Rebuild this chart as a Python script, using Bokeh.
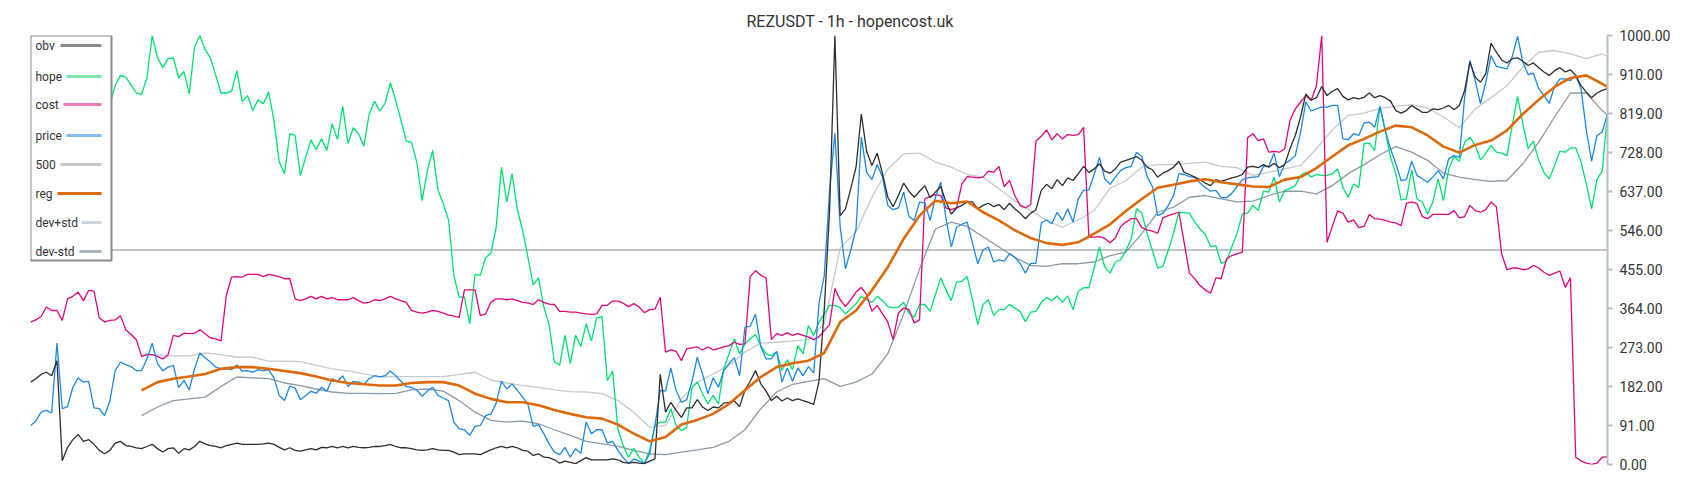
from bokeh.plotting import figure
from bokeh.models import Range1d, FixedTicker, PrintfTickFormatter, Span, BoxAnnotation, Label
from bokeh.embed import file_html
from bokeh.resources import INLINE

# ---------------- data (values normalised 0..1000) -------------
idx = list(range(299))

obv = [
    192, 200, 210, 215, 207, 242, 9, 40, 58, 70,
    54, 58, 47, 33, 25, 33, 50, 54, 44, 42,
    39, 37, 42, 47, 37, 29, 37, 39, 26, 37,
    34, 42, 54, 48, 44, 42, 39, 44, 47, 50,
    47, 47, 47, 47, 48, 50, 47, 40, 34, 39,
    33, 31, 34, 37, 34, 40, 39, 42, 39, 42,
    39, 42, 40, 39, 40, 42, 42, 44, 47, 42,
    39, 39, 37, 34, 33, 34, 37, 34, 33, 33,
    29, 23, 25, 25, 25, 23, 29, 34, 39, 42,
    39, 42, 39, 33, 31, 21, 25, 17, 16, 11,
    3, 8, 5, 2, 9, 16, 11, 11, 11, 11,
    13, 11, 5, 3, 5, 3, 2, 8, 13, 210,
    122, 145, 126, 110, 132, 132, 151, 134, 126, 134,
    132, 143, 145, 148, 135, 173, 194, 219, 188, 171,
    149, 159, 148, 155, 149, 153, 149, 145, 140, 194,
    363, 592, 1000, 580, 596, 643, 693, 817, 730, 697,
    726, 678, 623, 601, 627, 656, 637, 623, 637, 650,
    622, 635, 648, 612, 584, 598, 604, 612, 612, 596,
    604, 609, 601, 606, 594, 609, 596, 586, 573, 586,
    594, 639, 653, 643, 664, 650, 668, 662, 678, 695,
    681, 689, 701, 684, 679, 689, 705, 709, 713, 718,
    709, 693, 687, 670, 679, 685, 693, 707, 681, 676,
    670, 664, 656, 650, 664, 660, 664, 668, 671, 676,
    693, 695, 692, 699, 693, 702, 692, 699, 736, 767,
    810, 864, 849, 855, 881, 860, 870, 876, 858, 850,
    855, 852, 856, 866, 855, 860, 855, 847, 825, 819,
    825, 837, 829, 821, 821, 829, 827, 831, 837, 827,
    837, 872, 938, 903, 891, 911, 982, 961, 943, 936,
    946, 948, 940, 930, 936, 925, 915, 907, 918, 925,
    915, 920, 907, 883, 868, 855, 866, 872, 876,
]

hope = [
    860, 880, 900, 890, 870, 910, 930, 900, 880, 860,
    850, 870, 890, 870, 850, 841, 883, 907, 903, 885,
    866, 863, 901, 1000, 948, 925, 946, 948, 901, 916,
    864, 973, 1000, 967, 948, 907, 866, 866, 870, 918,
    846, 860, 825, 850, 841, 868, 802, 705, 678, 771,
    767, 674, 716, 757, 734, 759, 732, 794, 758, 835,
    748, 785, 771, 742, 817, 847, 824, 842, 890, 849,
    803, 754, 751, 705, 615, 685, 732, 640, 608, 570,
    441, 390, 390, 328, 443, 441, 482, 493, 553, 693,
    612, 678, 594, 546, 483, 419, 435, 367, 326, 239,
    232, 301, 235, 301, 275, 328, 288, 342, 345, 196,
    218, 83, 44, 17, 37, 17, 2, 33, 91, 99,
    99, 130, 91, 79, 87, 180, 192, 165, 141, 161,
    141, 223, 258, 293, 258, 281, 293, 303, 277, 258,
    254, 262, 219, 244, 221, 277, 258, 324, 301, 332,
    351, 371, 371, 365, 351, 363, 375, 392, 384, 378,
    392, 382, 368, 365, 367, 378, 353, 343, 373, 373,
    357, 396, 435, 407, 382, 425, 427, 438, 384, 326,
    373, 384, 347, 361, 361, 373, 365, 357, 333, 355,
    357, 378, 389, 382, 393, 378, 393, 361, 404, 412,
    412, 458, 507, 460, 446, 472, 477, 499, 526, 596,
    586, 538, 499, 458, 462, 499, 539, 588, 587, 586,
    565, 549, 536, 508, 510, 469, 474, 507, 539, 584,
    586, 604, 592, 637, 635, 670, 612, 639, 643, 650,
    674, 681, 670, 676, 674, 674, 678, 689, 646, 623,
    654, 646, 748, 749, 732, 835, 779, 716, 678, 617,
    619, 687, 619, 612, 584, 612, 666, 615, 689, 718,
    707, 751, 763, 744, 710, 726, 744, 728, 726, 720,
    790, 858, 794, 736, 754, 709, 681, 666, 697, 730,
    728, 738, 738, 705, 654, 596, 664, 684, 817,
]

cost = [
    332, 337, 345, 367, 359, 359, 336, 386, 392, 402,
    382, 406, 404, 342, 332, 336, 337, 347, 314, 303,
    291, 252, 256, 256, 252, 246, 256, 301, 298, 306,
    305, 306, 314, 305, 295, 293, 288, 394, 437, 438,
    437, 443, 443, 443, 438, 443, 441, 438, 433, 433,
    386, 382, 386, 392, 386, 392, 386, 389, 384, 384,
    384, 389, 382, 376, 378, 384, 382, 386, 392, 386,
    382, 378, 359, 355, 353, 355, 359, 357, 353, 348,
    346, 343, 407, 407, 407, 347, 351, 378, 386, 386,
    384, 386, 382, 378, 376, 373, 384, 378, 374, 373,
    357, 357, 355, 355, 353, 351, 350, 351, 371, 371,
    381, 381, 376, 368, 375, 367, 354, 361, 362, 390,
    262, 267, 264, 242, 270, 272, 274, 267, 274, 267,
    270, 274, 277, 285, 280, 281, 438, 452, 441, 435,
    291, 305, 301, 307, 301, 305, 301, 297, 291, 298,
    312, 326, 410, 384, 368, 384, 402, 413, 396, 357,
    371, 351, 332, 291, 353, 365, 361, 330, 337, 619,
    625, 629, 627, 598, 594, 598, 654, 671, 670, 668,
    670, 684, 681, 695, 648, 662, 627, 604, 598, 606,
    754, 765, 780, 757, 771, 759, 769, 767, 769, 786,
    530, 530, 531, 527, 517, 528, 555, 565, 573, 573,
    552, 547, 544, 539, 575, 580, 584, 588, 518, 446,
    433, 417, 407, 399, 435, 433, 479, 487, 491, 495,
    762, 771, 755, 759, 728, 730, 728, 736, 802, 829,
    845, 860, 849, 883, 1000, 518, 555, 591, 586, 565,
    570, 552, 555, 583, 573, 572, 569, 565, 563, 557,
    609, 612, 608, 578, 573, 583, 583, 583, 583, 592,
    575, 578, 604, 592, 588, 594, 612, 601, 491, 454,
    458, 458, 454, 456, 464, 458, 448, 441, 446, 451,
    413, 435, 17, 8, 3, 0, 3, 17, 18,
]

price = [
    91, 101, 122, 126, 120, 283, 130, 135, 180, 202,
    192, 194, 132, 130, 114, 148, 219, 239, 233, 228,
    219, 219, 246, 283, 235, 218, 227, 231, 179, 196,
    174, 223, 260, 249, 239, 227, 223, 223, 221, 232,
    218, 219, 215, 221, 218, 221, 202, 161, 149, 183,
    178, 151, 161, 171, 166, 180, 171, 200, 194, 207,
    182, 194, 192, 187, 200, 207, 204, 207, 218, 207,
    194, 182, 180, 173, 159, 171, 180, 161, 155, 149,
    99, 83, 81, 68, 89, 91, 114, 118, 143, 194,
    176, 188, 173, 157, 140, 89, 93, 72, 48, 29,
    23, 40, 17, 37, 26, 99, 72, 81, 81, 50,
    54, 33, 16, 2, 13, 8, 2, 25, 91, 173,
    171, 225, 173, 145, 151, 194, 250, 210, 165, 202,
    180, 218, 235, 249, 207, 320, 322, 350, 275, 246,
    246, 264, 192, 225, 194, 225, 207, 228, 213, 375,
    441, 639, 772, 555, 456, 500, 549, 763, 681, 664,
    699, 670, 604, 594, 598, 635, 578, 569, 612, 609,
    569, 623, 658, 573, 507, 553, 560, 565, 516, 468,
    500, 507, 472, 477, 474, 491, 483, 469, 446, 469,
    469, 563, 570, 561, 588, 569, 596, 565, 619, 639,
    640, 676, 716, 666, 653, 670, 685, 692, 695, 728,
    718, 671, 648, 580, 586, 604, 627, 678, 676, 671,
    670, 656, 645, 637, 639, 622, 622, 632, 648, 664,
    668, 670, 671, 695, 695, 726, 671, 701, 709, 720,
    775, 845, 824, 829, 833, 833, 837, 837, 759, 757,
    771, 767, 796, 798, 786, 835, 779, 736, 701, 662,
    664, 707, 674, 666, 658, 670, 685, 666, 713, 720,
    716, 855, 942, 895, 841, 891, 953, 928, 925, 922,
    951, 998, 938, 909, 912, 876, 860, 842, 881, 899,
    899, 895, 907, 876, 779, 707, 767, 775, 817,
]

# smooth series, read every third candle from index 21, plus the last one
band_idx = list(range(21, 298, 3)) + [298]

reg = [
    173, 192, 200, 205, 211, 223, 227, 227, 223, 218,
    213, 205, 196, 190, 187, 184, 184, 190, 192, 192,
    184, 165, 153, 145, 145, 138, 127, 118, 110, 107,
    93, 72, 54, 64, 93, 104, 118, 141, 173, 204,
    227, 236, 242, 260, 332, 359, 406, 460, 526, 580,
    615, 609, 613, 588, 569, 546, 528, 516, 512, 518,
    538, 560, 591, 619, 645, 652, 660, 665, 658, 653,
    648, 647, 664, 670, 691, 718, 744, 759, 776, 790,
    786, 767, 741, 727, 745, 755, 779, 817, 850, 880,
    901, 907, 887, 880,
]

dev_plus = [
    258, 256, 253, 253, 260, 256, 250, 250, 241, 241,
    240, 231, 223, 218, 211, 204, 205, 205, 205, 205,
    210, 215, 197, 190, 184, 180, 174, 170, 169, 165,
    149, 122, 87, 91, 153, 192, 211, 231, 262, 283,
    285, 288, 291, 328, 505, 542, 623, 689, 724, 726,
    705, 693, 676, 670, 643, 615, 592, 569, 553, 570,
    592, 644, 662, 693, 699, 699, 702, 705, 695, 692,
    674, 681, 689, 697, 736, 780, 814, 819, 830, 835,
    839, 831, 810, 785, 829, 855, 883, 926, 961, 965,
    957, 946, 957, 951,
]

dev_minus = [
    114, 134, 149, 153, 157, 182, 204, 202, 200, 190,
    184, 176, 169, 166, 166, 165, 166, 174, 176, 171,
    149, 122, 103, 99, 101, 95, 81, 68, 54, 48,
    42, 33, 25, 23, 29, 34, 40, 54, 81, 130,
    169, 187, 194, 200, 182, 192, 211, 258, 351, 456,
    549, 565, 555, 531, 507, 483, 464, 462, 468, 468,
    472, 487, 495, 538, 588, 600, 623, 627, 619, 612,
    614, 627, 637, 637, 631, 650, 678, 699, 722, 741,
    728, 709, 679, 670, 664, 660, 662, 701, 751, 810,
    866, 866, 825, 814,
]

level_500 = 500
y_ticks = [0, 91, 182, 273, 364, 455, 546, 637, 728, 819, 910, 1000]

legend_labels = ["obv", "hope", "cost", "price", "500", "reg", "dev+std", "dev-std"]
legend_colors = ["#8c8c8c", "#7de8a9", "#ea7db5", "#85bdf0", "#c8c8c8", "#dd6a0a", "#d0d7dc", "#a9b5bc"]

# ---------------- styles -------------------------------------------------------------
C_OBV, C_HOPE, C_COST, C_PRICE = "#2e2e2e", "#00e070", "#e0067a", "#1e88e5"
C_REG, C_500, C_DP, C_DM = "#dd6a0a", "#c4c4c4", "#c2cbd1", "#8c9aa4"
FONT = "Roboto"

p = figure(
    frame_width=1577, frame_height=429,
    x_range=Range1d(0, len(idx) - 1), y_range=Range1d(0, 1000),
    x_axis_location=None, y_axis_location="right",
    output_backend="svg", toolbar_location=None,
    min_border_left=30, min_border_right=85, min_border_top=35, min_border_bottom=28,
    background_fill_color="white", border_fill_color="white",
    title="REZUSDT - 1h - hopencost.uk",
)
p.outline_line_color = None
p.xgrid.visible = False
p.ygrid.visible = False

p.title.align = "left"
p.title.offset = 716
p.title.text_font = FONT
p.title.text_font_size = "16px"
p.title.text_font_style = "normal"
p.title.text_color = "#333333"

ax = p.yaxis[0]
ax.ticker = FixedTicker(ticks=y_ticks, minor_ticks=[])
ax.formatter = PrintfTickFormatter(format="%.2f")
ax.axis_line_color = "#b4bfc6"
ax.axis_line_width = 2
ax.major_tick_line_color = "#b4bfc6"
ax.major_tick_line_width = 2
ax.major_tick_out = 5
ax.major_tick_in = 0
ax.minor_tick_line_color = None
ax.major_label_text_font = FONT
ax.major_label_text_font_size = "14px"
ax.major_label_text_color = "#333333"
ax.major_label_standoff = 7

# 500 reference line
p.add_layout(Span(location=level_500, dimension="width", line_color=C_500, line_width=2, level="underlay"))

# series
p.line(band_idx, dev_plus, line_color=C_DP, line_width=1.3)
p.line(band_idx, dev_minus, line_color=C_DM, line_width=1.3)
p.line(idx, hope, line_color=C_HOPE, line_width=1.3)
p.line(idx, cost, line_color=C_COST, line_width=1.3)
p.line(idx, price, line_color=C_PRICE, line_width=1.3)
p.line(idx, obv, line_color=C_OBV, line_width=1.3)
p.line(band_idx, reg, line_color=C_REG, line_width=2.6)

# legend (label left, swatch right, as in the reference)
H = 429
p.add_layout(BoxAnnotation(left=0, right=81, top=H, bottom=204,
                           left_units="screen", right_units="screen",
                           top_units="screen", bottom_units="screen",
                           fill_color="white", fill_alpha=1.0,
                           line_color="#8a8a8a", line_width=2, line_alpha=1.0))
row_y = [419, 388, 360, 329, 300, 271, 242, 213]
swatch_left = [30, 36, 33, 36, 30, 27, 51, 49]
for lab, col, yy, sl in zip(legend_labels, legend_colors, row_y, swatch_left):
    p.add_layout(Label(x=5, y=yy, x_units="screen", y_units="screen", text=lab,
                       text_font=FONT, text_font_size="12px", text_color="#333333",
                       text_baseline="middle", text_align="left"))
    p.add_layout(BoxAnnotation(left=sl, right=71, top=yy + 1.5, bottom=yy - 1.5,
                               left_units="screen", right_units="screen",
                               top_units="screen", bottom_units="screen",
                               fill_color=col, fill_alpha=1.0, line_color=None))

open("out.html", "w").write(file_html(p, INLINE))
